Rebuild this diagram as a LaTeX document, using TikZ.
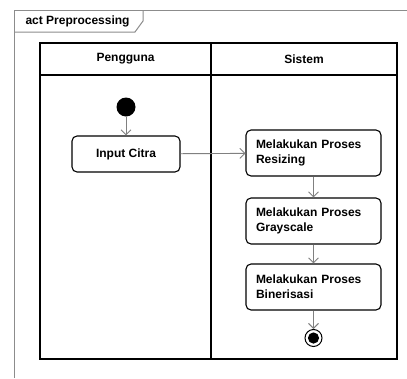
\documentclass[tikz,border=0pt]{standalone}
\usepackage{fontspec}
\setmainfont{Liberation Sans}
\usetikzlibrary{arrows.meta}
\begin{document}
\begin{tikzpicture}[x=1pt,y=-1pt,
  lbl/.style={font=\fontsize{12}{15}\selectfont\bfseries},
  action/.style={draw, line width=1.1pt, rounded corners=5pt, lbl,
    inner xsep=10pt, inner ysep=0pt},
  singleline/.style={action, minimum width=108pt, minimum height=36pt},
  twoline/.style={action, text width=115pt, align=left, minimum height=46pt},
  startnode/.style={circle, fill=black, minimum size=19pt, inner sep=0pt},
  endnode/.style={circle, draw, line width=1pt, minimum size=17pt, inner sep=0pt,
    path picture={\fill (path picture bounding box.center) circle (5.6pt);}},
  flow/.style={draw=black!50, line width=0.9pt,
    -{Straight Barb[length=5pt,width=10pt,line width=0.9pt]}},
  frameline/.style={draw=black!45, line width=1pt},
  laneline/.style={draw=black, line width=1.3pt}]
\useasboundingbox (0,0) rectangle (407,378);
% diagram frame with its name tab
\draw[frameline] (14,378) -- (14,10) -- (407,10);
\draw[frameline] (14,32) -- (135,32) -- (143,21) -- (143,10);
\node[lbl, anchor=west] (title) at (22,21) {act Preprocessing};
% swimlanes
\draw[laneline] (40,43) rectangle (397,359);
\draw[laneline] (40,75) -- (397,75);
\draw[laneline] (211,43) -- (211,359);
\node[lbl] (lane1) at (125.5,59) {Pengguna};
\node[lbl] (lane2) at (304,59) {Sistem};
% activity nodes
\node[startnode] (start) at (126,107) {};
\node[singleline] (input) at (126,154) {Input Citra};
\node[twoline] (resize) at (313.5,153) {Melakukan Proses\\Resizing};
\node[twoline] (gray) at (313.5,221) {Melakukan Proses\\Grayscale};
\node[twoline] (biner) at (313.5,287) {Melakukan Proses\\Binerisasi};
\node[endnode] (stop) at (313.5,338) {};
% control flows
\draw[flow] (start) -- (input);
\draw[flow] (input) -- (resize);
\draw[flow] (resize) -- (gray);
\draw[flow] (gray) -- (biner);
\draw[flow] (biner) -- (stop);
\end{tikzpicture}
\end{document}
